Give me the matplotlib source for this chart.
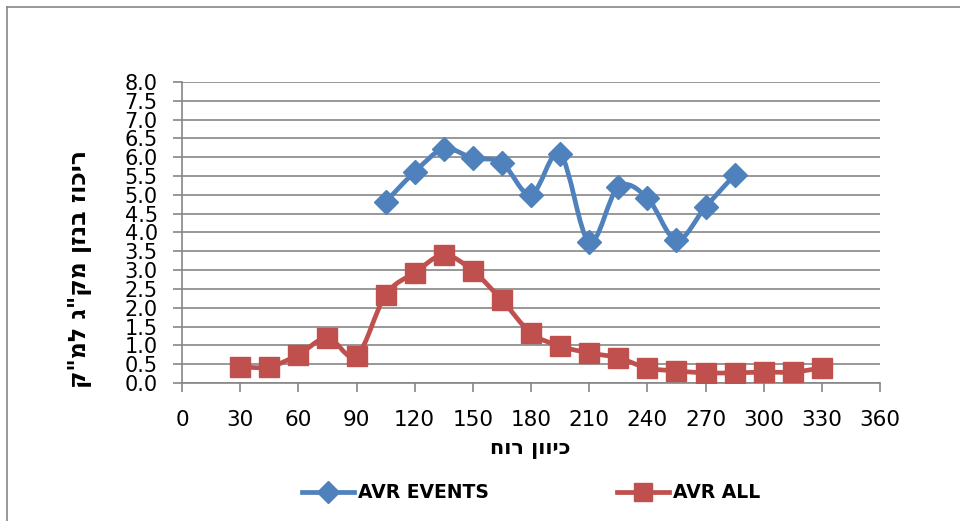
import numpy as np
import matplotlib
matplotlib.use('Agg')
import matplotlib.pyplot as plt
from matplotlib.path import Path
from matplotlib.patches import PathPatch
from matplotlib.lines import Line2D

# data
dir_events = [105, 120, 135, 150, 165, 180, 195, 210, 225, 240, 255, 270, 285]
avr_events = [4.81, 5.61, 6.22, 5.98, 5.85, 5.00, 6.09, 3.75, 5.21, 4.92, 3.80, 4.68, 5.53]

dir_all = [30, 45, 60, 75, 90, 105, 120, 135, 150, 165, 180, 195, 210,
           225, 240, 255, 270, 285, 300, 315, 330]
avr_all = [0.43, 0.43, 0.75, 1.20, 0.72, 2.34, 2.93, 3.40, 2.98, 2.20, 1.33,
           0.98, 0.80, 0.67, 0.40, 0.32, 0.27, 0.27, 0.29, 0.29, 0.40]

x_ticks = list(range(0, 361, 30))
y_ticks = [i * 0.5 for i in range(17)]

ylabel_he = 'ריכוז בנזן מק"ג למ"ק'
xlabel_he = 'כיוון רוח'

blue = '#4F81BD'
red = '#C0504D'
grid_c = '#868686'


def smooth_path(x, y):
    # Excel-like smoothed line: Catmull-Rom converted to cubic Bezier segments
    x = np.asarray(x, float)
    y = np.asarray(y, float)
    pts = np.column_stack([x, y])
    verts = [pts[0]]
    codes = [Path.MOVETO]
    n = len(pts)
    for i in range(n - 1):
        p0 = pts[i - 1] if i > 0 else pts[i]
        p1 = pts[i]
        p2 = pts[i + 1]
        p3 = pts[i + 2] if i + 2 < n else pts[i + 1]
        c1 = p1 + (p2 - p0) / 6.0
        c2 = p2 - (p3 - p1) / 6.0
        verts += [c1, c2, p2]
        codes += [Path.CURVE4] * 3
    return Path(verts, codes)


fig = plt.figure(figsize=(9.6, 5.21), dpi=100)
ax = fig.add_axes([182 / 960, 1 - 383 / 521, (880 - 182) / 960, (383 - 82) / 521])

for xs, ys, col, mk, ms in [(dir_events, avr_events, blue, 'D', 12),
                            (dir_all, avr_all, red, 's', 14.5)]:
    ax.add_patch(PathPatch(smooth_path(xs, ys), facecolor='none', edgecolor=col,
                           lw=3.4, zorder=3, capstyle='round', joinstyle='round'))
    ax.plot(xs, ys, ls='none', marker=mk, ms=ms, color=col, zorder=4)

ax.set_xlim(0, 360)
ax.set_ylim(0, 8)
ax.set_xticks(x_ticks)
ax.set_yticks(y_ticks)
ax.set_yticklabels([f'{v:.1f}' for v in y_ticks])
ax.tick_params(axis='both', labelsize=15, colors=grid_c, labelcolor='black',
               length=6.5, width=1.2, direction='out')
ax.tick_params(axis='y', pad=11)
ax.tick_params(axis='x', pad=13, labelsize=15.5)
ax.yaxis.grid(True, color=grid_c, lw=1.2)
ax.set_axisbelow(True)
for s in ['top', 'right']:
    ax.spines[s].set_visible(False)
for s in ['left', 'bottom']:
    ax.spines[s].set_color(grid_c)
    ax.spines[s].set_linewidth(1.2)

# Hebrew text is drawn without bidi support, so reverse it for display
fig.text(530 / 960, 1 - 449 / 521, xlabel_he[::-1], fontsize=15, fontweight='bold',
         ha='center', va='center')
fig.text(80 / 960, 1 - 269 / 521, ylabel_he[::-1], fontsize=17, fontweight='bold',
         ha='center', va='center', rotation=90)

handles = [Line2D([], [], color=blue, lw=3.4, marker='D', ms=11),
           Line2D([], [], color=red, lw=3.4, marker='s', ms=13)]
fig.legend(handles, ['AVR EVENTS', 'AVR ALL'], loc='center', ncol=2,
           bbox_to_anchor=(531 / 960, 1 - 493 / 521), frameon=False,
           prop={'size': 13.5, 'weight': 'bold'}, columnspacing=6.8,
           handlelength=2.8, handletextpad=0.2)

# chart border (left and top only visible in the reference)
fig.add_artist(Line2D([7 / 960, 7 / 960], [0, 1 - 7 / 521], transform=fig.transFigure,
                      color=grid_c, lw=1.2))
fig.add_artist(Line2D([7 / 960, 1], [1 - 7 / 521, 1 - 7 / 521], transform=fig.transFigure,
                      color=grid_c, lw=1.2))

fig.savefig('out.png', dpi=100)
